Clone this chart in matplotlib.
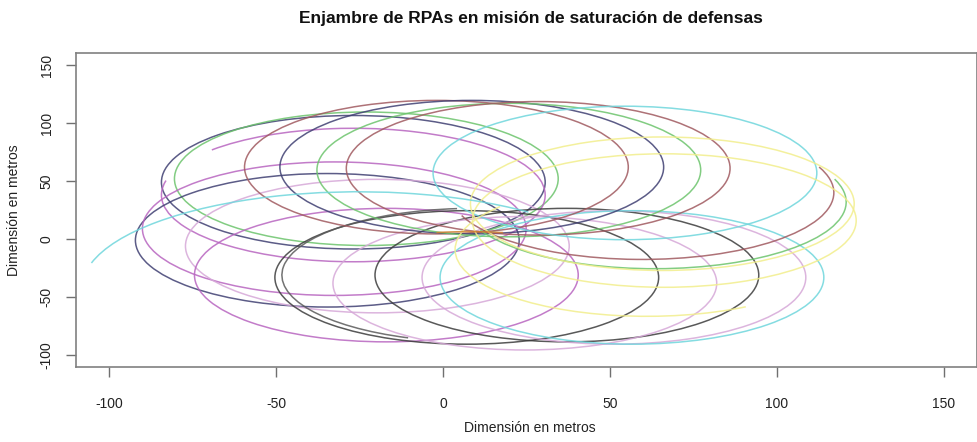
import matplotlib
matplotlib.use('Agg')
import matplotlib.pyplot as plt
from matplotlib.patches import Arc

plt.rcParams['font.family'] = ['Liberation Sans', 'DejaVu Sans']
plt.rcParams['axes.unicode_minus'] = False

# trajectories of each RPA: circle centre (m), radius (m),
# start / end angle of the drawn arc (deg, counter-clockwise) and colour
cx = [-26.9, -23.0, -26.9, -34.7, -32.6, -19.7, -17.0, 7.1, 9.2, 37.1, 24.5, 51.2,
      56.6, -2.0, 8.6, 19.7, 28.5, 54.5, 59.6, 63.3, 65.7, 66.3, 61.1, -25.4, 8.0]
cy = [49.0, 52.0, 38.0, -1.0, 9.0, -6.0, -31.0, -33.0, -31.0, -31.0, -38.0, -33.0,
      -33.0, 62.0, 62.0, 59.5, 61.0, 57.0, 40.0, 32.0, 30.5, 16.0, -9.0, -42.0, -51.0]
radius = [57.5] * 23 + [82.8, 57.5]
theta_start = [0, 0, 167.5, 0, 0, 0, 0, 0, 95, 0, 0, 0,
               0, 0, 0, 0, 0, 0, 200, 205, 0, 0, 140, 52, 80]
theta_end = [360, 360, 497.5, 360, 360, 360, 360, 360, 250, 360, 360, 360,
             360, 360, 360, 360, 360, 360, 382.6, 380, 360, 360, 301, 165, 100]
colors = ['#3f3f72', '#6cc46c', '#b865c0', '#3f3f72', '#b865c0', '#d6a8d8', '#b865c0',
          '#3c3c3c', '#5a5a5a', '#3c3c3c', '#d6a8d8', '#d6a8d8', '#6fd6dc', '#a0595f',
          '#3f3f72', '#6cc46c', '#a0595f', '#6fd6dc', '#a0595f', '#6cc46c', '#f2ee8c',
          '#f2ee8c', '#f2ee8c', '#6fd6dc', '#d08030']

xticks = [-100, -50, 0, 50, 100, 150]
yticks = [-100, -50, 0, 50, 100, 150]

fig = plt.figure(figsize=(9.77, 4.42), dpi=100)
ax = fig.add_axes([0.0778, 0.1701, 0.9222, 0.7091])

for i in range(len(cx)):
    ax.add_patch(Arc((cx[i], cy[i]), 2 * radius[i], 2 * radius[i],
                     theta1=theta_start[i], theta2=theta_end[i],
                     color=colors[i], lw=1.1, alpha=0.85))

ax.set_xlim(-110, 160)
ax.set_ylim(-110, 160)
ax.set_xticks(xticks)
ax.set_yticks(yticks)
ax.tick_params(colors='#707070', length=7, width=1, labelcolor='#222222', labelsize=10)
ax.tick_params(axis='x', pad=15)
ax.tick_params(axis='y', labelrotation=90, pad=9)
for lab in ax.get_yticklabels():
    lab.set_va('center')
for s in ax.spines.values():
    s.set_color('#808080')
    s.set_linewidth(1.2)

fig.text(0.543, 1 - 18 / 442, 'Enjambre de RPAs en misión de saturación de defensas',
         ha='center', va='center', fontsize=12.5, fontweight='bold', color='#111111')
fig.text(0.542, 1 - 428 / 442, 'Dimensión en metros', ha='center', va='center',
         fontsize=10, color='#222222')
fig.text(14 / 977, 1 - 210 / 442, 'Dimensión en metros', ha='center', va='center',
         rotation=90, fontsize=10, color='#222222')

fig.savefig('out.png', dpi=100)
